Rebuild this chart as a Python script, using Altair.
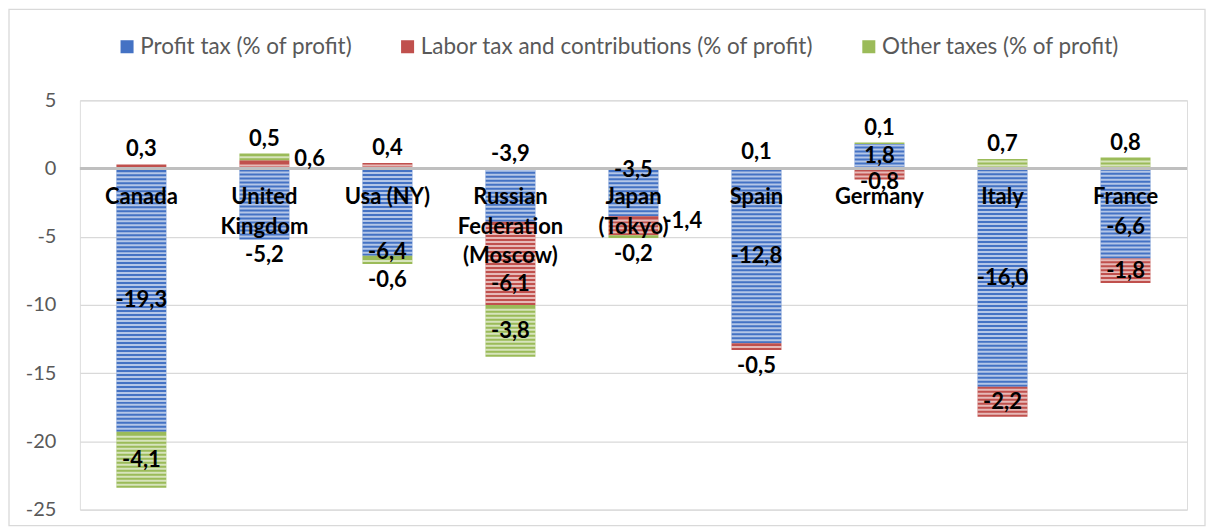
import altair as alt
import pandas as pd

# ---------------- data ----------------
countries = ["Canada", "United Kingdom", "Usa (NY)", "Russian Federation (Moscow)",
             "Japan (Tokyo)", "Spain", "Germany", "Italy", "France"]
country_labels = ["Canada", "United\nKingdom", "Usa (NY)", "Russian\nFederation\n(Moscow)",
                  "Japan\n(Tokyo)", "Spain", "Germany", "Italy", "France"]
series_names = ["Profit tax (% of profit)", "Labor tax and contributions (% of profit)",
                "Other taxes (% of profit)"]
profit_tax = [-19.3, -5.2, -6.4, -3.9, -3.5, -12.8, 1.8, -16.0, -6.6]
labor_tax = [0.3, 0.6, 0.4, -6.1, -1.4, -0.5, -0.8, -2.2, -1.8]
other_tax = [-4.1, 0.5, -0.6, -3.8, -0.2, 0.1, 0.1, 0.7, 0.8]
y_ticks = [5, 0, -5, -10, -15, -20, -25]

# label placement codes (c=center, cl=center-low, a=above, b=below, bt=just below,
# r=right, it=inside top, ib=inside bottom)
profit_place = ["c", "b", "ib", "a", "it", "c", "c", "c", "cl"]
labor_place = ["a", "r", "a", "cl2", "r", "b", "bt", "c", "c"]
other_place = ["c", "a", "b", "c", "b", "a", "a", "a", "a"]

colors = ["#4472C4", "#C0504D", "#9BBB59"]

rows = []
for si, (vals, places) in enumerate([(profit_tax, profit_place),
                                     (labor_tax, labor_place),
                                     (other_tax, other_place)]):
    for c, v, p in zip(countries, vals, places):
        rows.append({"country": c, "series": series_names[si], "order": si,
                     "value": v, "pos": p})
df = pd.DataFrame(rows)
cat_df = pd.DataFrame({"country": countries, "label": country_labels})

FONT = "Lato"
x_scale = alt.Scale(domain=countries, paddingInner=0, paddingOuter=0)
y_scale = alt.Scale(domain=[-25, 5], nice=False, zero=False)
y_axis = alt.Axis(values=y_ticks, grid=True, gridColor="#D9D9D9", gridWidth=1.3,
                  domain=False, ticks=False, labelPadding=24, labelFontSize=20,
                  labelColor="#595959", labelFont=FONT, title=None,
                  labelExpr="replace(datum.label, '\u2212', '-')")

X = alt.X("country:N", sort=countries, scale=x_scale, axis=None, title=None)


def Y(field):
    return alt.Y(field, type="quantitative", scale=y_scale, axis=y_axis, title=None)


base = alt.Chart(df).transform_stack(
    stack="value", groupby=["country"], as_=["v0", "v1"],
    sort=[alt.SortField("order", order="ascending")]
).transform_calculate(
    top="max(datum.v0, datum.v1)",
    bot="min(datum.v0, datum.v1)",
    mid="(datum.v0 + datum.v1) / 2",
    lbl="replace(replace(format(datum.value, '.1f'), '.', ','), '\u2212', '-')",
)

bars = base.mark_bar(size=50).encode(
    x=X, y=Y("v0"), y2="v1",
    color=alt.Color("series:N", scale=alt.Scale(domain=series_names, range=colors),
                    legend=alt.Legend(orient="none", legendX=36, legendY=-65,
                                      direction="horizontal", title=None,
                                      symbolType="square", symbolSize=170,
                                      symbolStrokeWidth=0, labelFontSize=22.5,
                                      labelFont=FONT, labelColor="#595959",
                                      labelLimit=600, columnPadding=44,
                                      labelOffset=2, padding=0)),
)

step = 4 / (410 / 30)
stripes = base.transform_calculate(
    stripes=f"sequence(datum.bot + {step * 0.75}, datum.top - 0.1, {step})"
).transform_flatten(["stripes"], as_=["stripe"]).mark_tick(
    orient="horizontal", size=50, thickness=2, color="white", opacity=0.6
).encode(x=X, y=Y("stripe"))

zero_line = alt.Chart(pd.DataFrame({"z": [0]})).mark_rule(
    color="#BFBFBF", strokeWidth=3).encode(y=Y("z"))

cat_text = alt.Chart(cat_df).transform_calculate(z="0").mark_text(
    lineBreak="\n", baseline="top", dy=19, lineHeight=29.5, fontSize=22,
    fontWeight="bold", font=FONT, color="black"
).encode(x=X, y=Y("z"), text="label:N")

txt_kw = dict(fontSize=22, fontWeight="bold", font=FONT, color="black",
              baseline="middle")
layers_txt = []
for code, anchor, kw in [
    ("c", "mid", dict()),
    ("cl", "mid", dict(dy=14)),
    ("cl2", "mid", dict(dy=21)),
    ("a", "top", dict(dy=-15)),
    ("b", "bot", dict(dy=16)),
    ("bt", "bot", dict(dy=3)),
    ("it", "top", dict(dy=2)),
    ("ib", "bot", dict(dy=-4)),
    ("r", "mid", dict(dx=30, dy=-5, align="left")),
]:
    layers_txt.append(
        base.transform_filter(alt.datum.pos == code)
        .mark_text(**txt_kw, **kw)
        .encode(x=X, y=Y(anchor), text="lbl:N")
    )

frame = alt.Chart(pd.DataFrame({"a": [0]})).mark_rect(
    fill=None, fillOpacity=0, stroke="#D9D9D9", strokeWidth=1.3
).encode(x=alt.value(-71), x2=alt.value(1127), y=alt.value(-91), y2=alt.value(426))

chart = alt.layer(frame, bars, stripes, zero_line, cat_text, *layers_txt).properties(
    width=1109, height=410, padding=0
).configure_view(stroke=None).configure(font=FONT)

chart.save("out.html", embed_options={"renderer": "svg", "actions": False})
